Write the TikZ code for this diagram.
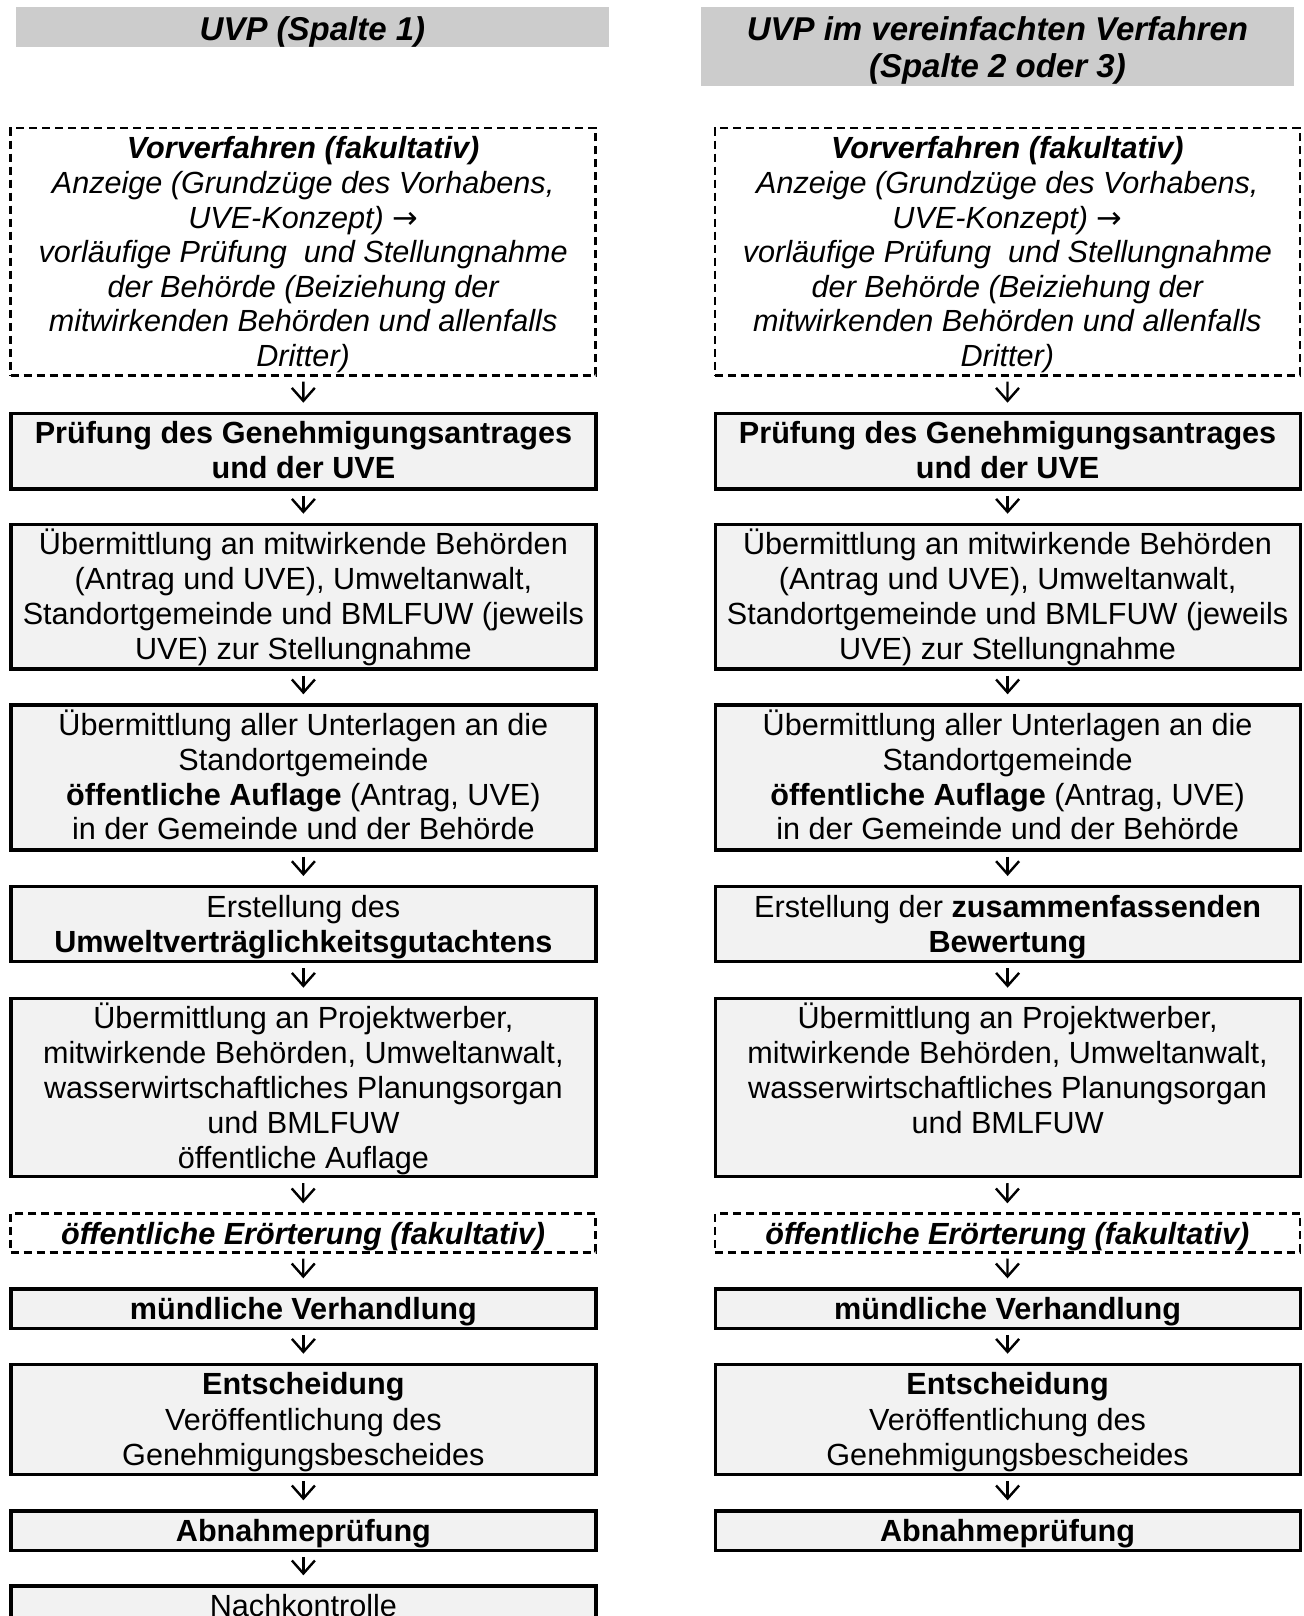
\documentclass[tikz,border=0pt]{standalone}
\usepackage{fontspec}
\setmainfont{Liberation Sans}
\newfontfamily\symfont{DejaVu Sans}
\usetikzlibrary{arrows.meta}
\definecolor{barGray}{RGB}{204,204,204}
\definecolor{boxFill}{RGB}{242,242,242}
\newcommand\firstln{\rule{0pt}{30pt}}
\newcommand\firstttl{\rule{0pt}{31pt}}
\begin{document}
\begin{tikzpicture}[x=1pt,y=-1pt,
  solidbox/.style={draw=black, line width=3.2pt, fill=boxFill, inner sep=0pt, anchor=north west, minimum width=585pt},
  dashbox/.style={draw=black, line width=2.7pt, dash pattern=on 8pt off 5pt, fill=white, inner sep=0pt, anchor=north west, minimum width=585pt},
  bar/.style={fill=barGray, inner sep=0pt, anchor=north west},
  txt/.style={align=center, inner sep=0pt, anchor=north, font=\fontsize{30.6}{34.8}\selectfont},
  ttl/.style={align=center, inner sep=0pt, anchor=north, font=\fontsize{33}{36.7}\selectfont\bfseries\itshape},
  flow/.style={line width=2.4pt, -{Straight Barb[length=13pt,width=23pt]}, shorten <=5pt, shorten >=9pt}
]
\useasboundingbox (0,0) rectangle (1303,1616);
\clip (0,0) rectangle (1303,1616);

% title bars
\node[bar, minimum width=593.5pt, minimum height=40pt] (T1) at (15.5,6.7) {};
\node[ttl] (T1t) at ([yshift=-3.1pt]T1.north) {\firstttl UVP (Spalte 1)};
\node[bar, minimum width=593pt, minimum height=79.3pt] (T2) at (700.7,6.7) {};
\node[ttl] (T2t) at ([yshift=-3.1pt]T2.north) {\firstttl UVP im vereinfachten Verfahren\\(Spalte 2 oder 3)};

% ---------- left column ----------
\node[dashbox, minimum height=247.3pt] (L1) at (9.3,126.7) {};
\node[dashbox, minimum height=38.7pt] (L7) at (9.3,1212.3) {};
\node[solidbox, minimum height=75.6pt] (L2) at (9.3,411.7) {};
\node[solidbox, minimum height=144.6pt] (L3) at (9.3,522.7) {};
\node[solidbox, minimum height=145pt] (L4) at (9.3,703.3) {};
\node[solidbox, minimum height=75pt] (L5) at (9.3,885) {};
\node[solidbox, minimum height=178.3pt] (L6) at (9.3,996.7) {};
\node[solidbox, minimum height=39.4pt] (L8) at (9.3,1287.3) {};
\node[solidbox, minimum height=110pt] (L9) at (9.3,1362.7) {};
\node[solidbox, minimum height=39.4pt] (L10) at (9.3,1509.3) {};
\node[solidbox, minimum height=70pt] (L11) at (9.3,1584.3) {};

% ---------- right column ----------
\node[dashbox, minimum height=247.3pt] (R1) at (713.5,126.7) {};
\node[dashbox, minimum height=38.7pt] (R7) at (713.5,1212.3) {};
\node[solidbox, minimum height=75.6pt] (R2) at (713.5,411.7) {};
\node[solidbox, minimum height=144.6pt] (R3) at (713.5,522.7) {};
\node[solidbox, minimum height=145pt] (R4) at (713.5,703.3) {};
\node[solidbox, minimum height=75pt] (R5) at (713.5,885) {};
\node[solidbox, minimum height=178.3pt] (R6) at (713.5,996.7) {};
\node[solidbox, minimum height=39.4pt] (R8) at (713.5,1287.3) {};
\node[solidbox, minimum height=110pt] (R9) at (713.5,1362.7) {};
\node[solidbox, minimum height=39.4pt] (R10) at (713.5,1509.3) {};

% ---------- texts ----------
\foreach \c in {L,R}{
  \node[txt, font=\fontsize{30.6}{34.6}\selectfont\itshape] (\c1t) at ([yshift=-2pt]\c1.north) {\firstln\textbf{Vorverfahren (fakultativ)}\\Anzeige (Grundzüge des Vorhabens,\\UVE-Konzept) {\symfont\upshape →}\\vorläufige Prüfung\ \ und Stellungnahme\\der Behörde (Beiziehung der\\mitwirkenden Behörden und allenfalls\\Dritter)};
  \node[txt, font=\fontsize{30.6}{34.8}\selectfont\bfseries] (\c2t) at ([yshift=-2pt]\c2.north) {\firstln Prüfung des Genehmigungsantrages\\und der UVE};
  \node[txt] (\c3t) at ([yshift=-2pt]\c3.north) {\firstln Übermittlung an mitwirkende Behörden\\(Antrag und UVE), Umweltanwalt,\\Standortgemeinde und BMLFUW (jeweils\\UVE) zur Stellungnahme};
  \node[txt] (\c4t) at ([yshift=-2pt]\c4.north) {\firstln Übermittlung aller Unterlagen an die\\Standortgemeinde\\\textbf{öffentliche Auflage} (Antrag, UVE)\\in der Gemeinde und der Behörde};
  \node[txt, font=\fontsize{30.6}{34.8}\selectfont\bfseries\itshape] (\c7t) at ([yshift=-2pt]\c7.north) {\firstln öffentliche Erörterung (fakultativ)};
  \node[txt, font=\fontsize{30.6}{34.8}\selectfont\bfseries] (\c8t) at ([yshift=-2pt]\c8.north) {\firstln mündliche Verhandlung};
  \node[txt, font=\fontsize{30.6}{35.2}\selectfont] (\c9t) at ([yshift=-2pt]\c9.north) {\firstln\textbf{Entscheidung}\\Veröffentlichung des\\Genehmigungsbescheides};
  \node[txt, font=\fontsize{30.6}{34.8}\selectfont\bfseries] (\c10t) at ([yshift=-2pt]\c10.north) {\firstln Abnahmeprüfung};
}
\node[txt] (L5t) at ([yshift=-2pt]L5.north) {\firstln Erstellung des\\\textbf{Umweltverträglichkeitsgutachtens}};
\node[txt] (R5t) at ([yshift=-2pt]R5.north) {\firstln Erstellung der \textbf{zusammenfassenden}\\\textbf{Bewertung}};
\node[txt, font=\fontsize{30.6}{35}\selectfont] (L6t) at ([yshift=-2pt]L6.north) {\firstln Übermittlung an Projektwerber,\\mitwirkende Behörden, Umweltanwalt,\\wasserwirtschaftliches Planungsorgan\\und BMLFUW\\öffentliche Auflage};
\node[txt, font=\fontsize{30.6}{35}\selectfont] (R6t) at ([yshift=-2pt]R6.north) {\firstln Übermittlung an Projektwerber,\\mitwirkende Behörden, Umweltanwalt,\\wasserwirtschaftliches Planungsorgan\\und BMLFUW};
\node[txt] (L11t) at ([yshift=-2pt]L11.north) {\firstln Nachkontrolle};

% ---------- connectors ----------
\foreach \a/\b in {1/2,2/3,3/4,4/5,5/6,6/7,7/8,8/9,9/10,10/11}{
  \draw[flow] (L\a) -- (L\b);
}
\foreach \a/\b in {1/2,2/3,3/4,4/5,5/6,6/7,7/8,8/9,9/10}{
  \draw[flow] (R\a) -- (R\b);
}
\end{tikzpicture}
\end{document}
